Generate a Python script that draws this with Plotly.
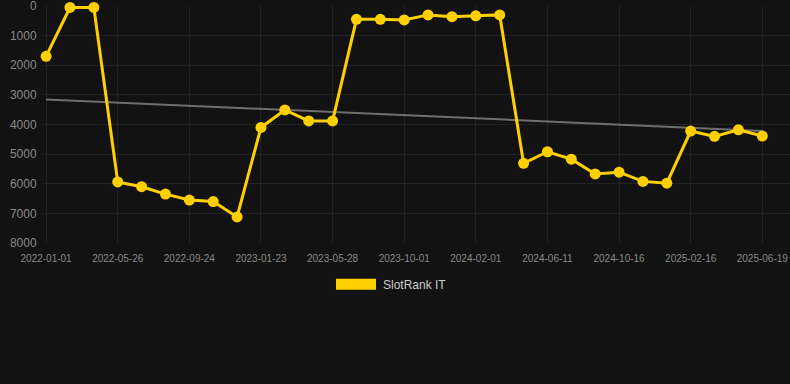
import numpy as np
import plotly.graph_objects as go

dates = [
    "2022-01-01", "2022-02-18", "2022-04-07", "2022-05-26", "2022-06-15", "2022-08-04",
    "2022-09-24", "2022-10-24", "2022-12-23", "2023-01-23", "2023-03-05", "2023-04-15",
    "2023-05-28", "2023-07-10", "2023-08-20", "2023-10-01", "2023-11-10", "2023-12-20",
    "2024-02-01", "2024-03-15", "2024-04-28", "2024-06-11", "2024-07-22", "2024-09-03",
    "2024-10-16", "2024-11-27", "2025-01-06", "2025-02-16", "2025-03-28", "2025-05-08",
    "2025-06-19",
]
rank = [
    1700, 50, 50, 5940, 6100, 6350, 6550, 6600, 7120, 4100, 3510, 3880,
    3880, 450, 450, 470, 300, 360, 330, 300, 5310, 4920, 5170, 5670,
    5610, 5920, 5980, 4220, 4400, 4180, 4390,
]
tick_dates = dates[::3]
y_ticks = [0, 1000, 2000, 3000, 4000, 5000, 6000, 7000, 8000]
series_name = "SlotRank IT"

idx = np.arange(len(rank))
slope, intercept = np.polyfit(idx, rank, 1)
trend = [intercept, intercept + slope * idx[-1]]

BG = "#121212"
YEL = "#FFD000"

fig = go.Figure()
fig.add_trace(go.Scatter(
    x=[dates[0], dates[-1]], y=trend, mode="lines",
    line=dict(color="#6f6f6f", width=2), showlegend=False, hoverinfo="skip",
))
fig.add_trace(go.Scatter(
    x=dates, y=rank, mode="lines+markers", name=series_name,
    line=dict(color=YEL, width=3), marker=dict(color=YEL, size=11),
    cliponaxis=False, showlegend=False,
))

L, T, B = 43, 6, 384 - 243.3
W = 790 - L
H = 243.3 - T

def px(x):
    return (x - L) / W

def py(y):
    return (243.3 - y) / H

fig.add_shape(type="rect", xref="paper", yref="paper",
              x0=px(336), x1=px(376), y0=py(290), y1=py(279),
              fillcolor=YEL, line=dict(width=0))
fig.add_annotation(xref="paper", yref="paper", x=px(381), y=py(285),
                   text=series_name, showarrow=False, xanchor="left", yanchor="middle",
                   font=dict(family="Liberation Sans, Arial", size=12, color="#cccccc"))

fig.update_layout(
    width=790, height=384,
    margin=dict(l=L, r=0, t=T, b=B),
    paper_bgcolor=BG, plot_bgcolor=BG,
    font=dict(family="Liberation Sans, Arial", color="#888888"),
    showlegend=False,
    xaxis=dict(
        type="category", categoryorder="array", categoryarray=dates,
        range=[-0.13, 31.16],
        tickvals=tick_dates, ticktext=tick_dates,
        showgrid=True, gridcolor="#222222", gridwidth=1,
        zeroline=False, showline=False,
        ticks="outside", ticklen=6, tickcolor="rgba(0,0,0,0)",
        tickfont=dict(size=10, color="#888888"),
        ticklabeloverflow="allow",
    ),
    yaxis=dict(
        range=[8000, 0], tickvals=y_ticks,
        showgrid=True, gridcolor="#222222", gridwidth=1,
        zeroline=False, showline=False,
        ticks="outside", ticklen=3, tickcolor="rgba(0,0,0,0)",
        tickfont=dict(size=12, color="#888888"),
        ticklabeloverflow="allow",
    ),
)

fig.write_html("out.html")
